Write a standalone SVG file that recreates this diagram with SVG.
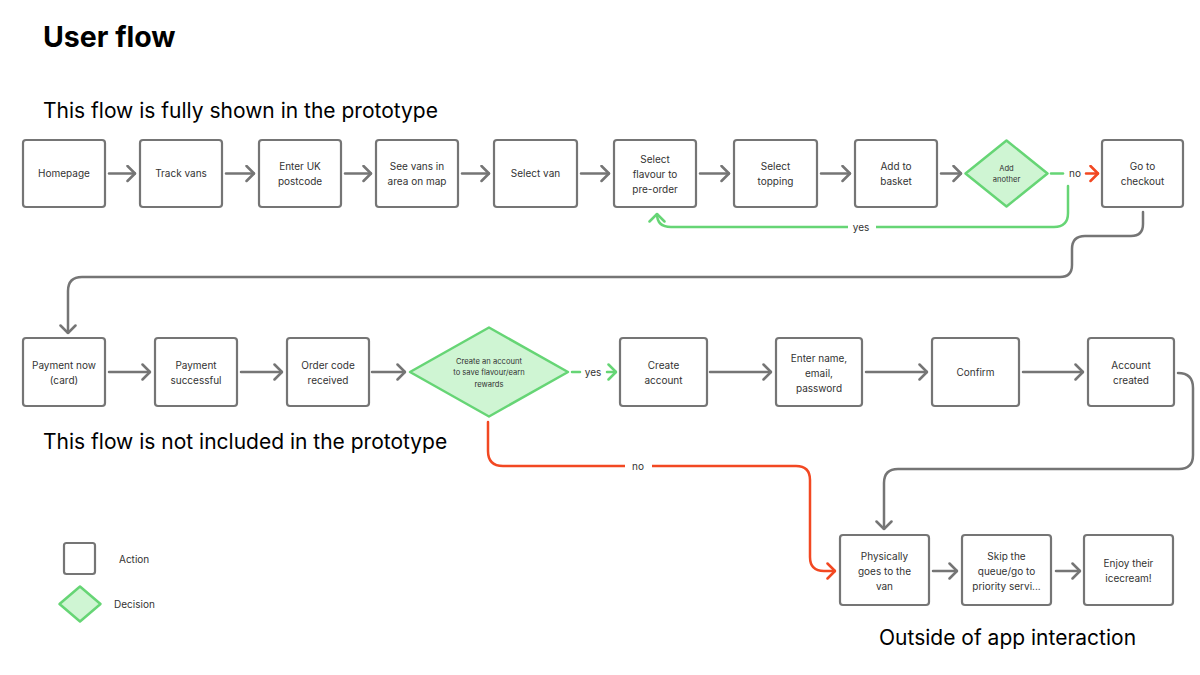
<svg xmlns="http://www.w3.org/2000/svg" width="1200" height="675" viewBox="0 0 1200 675">
<style>
.bg{fill:#ffffff}
.box{fill:#ffffff;stroke:#757575;stroke-width:2.2}
.dia{fill:#CFF5D3;stroke:#66D575;stroke-width:2.5;stroke-linejoin:round}
.t{font-family:Inter,"Liberation Sans",sans-serif;font-size:10px;fill:#333333;text-anchor:middle}
.ts{font-family:Inter,"Liberation Sans",sans-serif;font-size:7.6px;fill:#333333;text-anchor:middle}
.lab{font-family:Inter,"Liberation Sans",sans-serif;font-size:10px;fill:#333333;text-anchor:middle}
.leg{font-family:Inter,"Liberation Sans",sans-serif;font-size:10px;fill:#333333}
.h1{font-family:Inter,"Liberation Sans",sans-serif;font-size:28.5px;font-weight:700;fill:#000000}
.h2{font-family:Inter,"Liberation Sans",sans-serif;font-size:21px;fill:#000000}
.cg{fill:none;stroke:#757575;stroke-width:2.5;stroke-linecap:round}
.cgr{fill:none;stroke:#66D575;stroke-width:2.5;stroke-linecap:round}
.cr{fill:none;stroke:#F24822;stroke-width:2.5;stroke-linecap:round}
</style>
<defs>
<marker id="ag" viewBox="0 0 10 18" refX="9" refY="9" markerWidth="10" markerHeight="18" markerUnits="userSpaceOnUse" orient="auto"><path d="M1.5 1.5 L9 9 L1.5 16.5" fill="none" stroke="#757575" stroke-width="2.5" stroke-linecap="round" stroke-linejoin="round"/></marker>
<marker id="agr" viewBox="0 0 10 18" refX="9" refY="9" markerWidth="10" markerHeight="18" markerUnits="userSpaceOnUse" orient="auto"><path d="M1.5 1.5 L9 9 L1.5 16.5" fill="none" stroke="#66D575" stroke-width="2.5" stroke-linecap="round" stroke-linejoin="round"/></marker>
<marker id="ar" viewBox="0 0 10 18" refX="9" refY="9" markerWidth="10" markerHeight="18" markerUnits="userSpaceOnUse" orient="auto"><path d="M1.5 1.5 L9 9 L1.5 16.5" fill="none" stroke="#F24822" stroke-width="2.5" stroke-linecap="round" stroke-linejoin="round"/></marker>
</defs>
<rect class="bg" x="0" y="0" width="1200" height="675"/>

<g id="titles">
<text class="h1" x="43" y="47">User flow</text>
<text class="h2" x="43" y="118">This flow is fully shown in the prototype</text>
<text class="h2" x="43" y="449">This flow is not included in the prototype</text>
<text class="h2" x="879" y="645">Outside of app interaction</text>
</g>

<g id="connectors">
<path class="cg" d="M109 173.5 H135" marker-end="url(#ag)"/>
<path class="cg" d="M226 173.5 H254" marker-end="url(#ag)"/>
<path class="cg" d="M345 173.5 H371" marker-end="url(#ag)"/>
<path class="cg" d="M462 173.5 H489" marker-end="url(#ag)"/>
<path class="cg" d="M581 173.5 H609" marker-end="url(#ag)"/>
<path class="cg" d="M700 173.5 H729" marker-end="url(#ag)"/>
<path class="cg" d="M821 173.5 H850" marker-end="url(#ag)"/>
<path class="cg" d="M941 173.5 H961" marker-end="url(#ag)"/>
<path class="cgr" d="M1051 173.5 H1063"/>
<text class="lab" x="1075" y="177">no</text>
<path class="cr" d="M1086 173.5 H1098" marker-end="url(#ar)"/>
<path class="cgr" d="M1068 186 V213 Q1068 227 1054 227 H671 Q657 227 657 214" marker-end="url(#agr)"/>
<rect x="848" y="220" width="28" height="14" fill="#ffffff"/>
<text class="lab" x="861" y="231">yes</text>
<path class="cg" d="M1143 212 V224 Q1143 236 1131 236 H1085 Q1072 236 1072 249 V265 Q1072 277 1060 277 H82 Q68 277 68 291 V333" marker-end="url(#ag)"/>
<path class="cg" d="M109 372 H150" marker-end="url(#ag)"/>
<path class="cg" d="M241 372 H282" marker-end="url(#ag)"/>
<path class="cg" d="M372 372 H405" marker-end="url(#ag)"/>
<path class="cgr" d="M572 372 H580"/>
<text class="lab" x="593" y="376">yes</text>
<path class="cgr" d="M607 372 H616" marker-end="url(#agr)"/>
<path class="cg" d="M710 372 H771" marker-end="url(#ag)"/>
<path class="cg" d="M866 372 H927" marker-end="url(#ag)"/>
<path class="cg" d="M1023 372 H1083" marker-end="url(#ag)"/>
<path class="cg" d="M1178 373 Q1193 373 1193 388 V455 Q1193 469 1179 469 H898 Q884 469 884 483 V529" marker-end="url(#ag)"/>
<path class="cr" d="M488 422 V451 Q488 466 503 466 H796 Q810 466 810 480 V557 Q810 571 824 571 H835" marker-end="url(#ar)"/>
<rect x="625" y="459" width="27" height="14" fill="#ffffff"/>
<text class="lab" x="638" y="470">no</text>
<path class="cg" d="M933 571 H957" marker-end="url(#ag)"/>
<path class="cg" d="M1056 571 H1080" marker-end="url(#ag)"/>
</g>

<g id="homepage"><rect class="box" x="23" y="140" width="82" height="67" rx="3"/><text class="t" x="64" y="177">Homepage</text></g>
<g id="track-vans"><rect class="box" x="140" y="140" width="82" height="67" rx="3"/><text class="t" x="181" y="177">Track vans</text></g>
<g id="enter-postcode"><rect class="box" x="259" y="140" width="82" height="67" rx="3"/><text class="t" x="300" y="170">Enter UK</text><text class="t" x="300" y="185">postcode</text></g>
<g id="see-vans"><rect class="box" x="376" y="140" width="82" height="67" rx="3"/><text class="t" x="417" y="170">See vans in</text><text class="t" x="417" y="185">area on map</text></g>
<g id="select-van"><rect class="box" x="494" y="140" width="83" height="67" rx="3"/><text class="t" x="535.5" y="177">Select van</text></g>
<g id="select-flavour"><rect class="box" x="614" y="140" width="82" height="67" rx="3"/><text class="t" x="655" y="162.5">Select</text><text class="t" x="655" y="177.5">flavour to</text><text class="t" x="655" y="192.5">pre-order</text></g>
<g id="select-topping"><rect class="box" x="734" y="140" width="83" height="67" rx="3"/><text class="t" x="775.5" y="170">Select</text><text class="t" x="775.5" y="185">topping</text></g>
<g id="add-basket"><rect class="box" x="855" y="140" width="82" height="67" rx="3"/><text class="t" x="896" y="170">Add to</text><text class="t" x="896" y="185">basket</text></g>
<g id="add-another"><path class="dia" d="M1006.5 140.5 L1047.5 173.5 L1006.5 206.5 L965.5 173.5 Z"/><text class="ts" x="1006.5" y="171">Add</text><text class="ts" x="1006.5" y="181.5">another</text></g>
<g id="checkout"><rect class="box" x="1102" y="140" width="81" height="67" rx="3"/><text class="t" x="1142.5" y="170">Go to</text><text class="t" x="1142.5" y="185">checkout</text></g>

<g id="payment-now"><rect class="box" x="23" y="338" width="82" height="68" rx="3"/><text class="t" x="64" y="369">Payment now</text><text class="t" x="64" y="384">(card)</text></g>
<g id="payment-successful"><rect class="box" x="155" y="338" width="82" height="68" rx="3"/><text class="t" x="196" y="369">Payment</text><text class="t" x="196" y="384">successful</text></g>
<g id="order-code"><rect class="box" x="287" y="338" width="82" height="68" rx="3"/><text class="t" x="328" y="369">Order code</text><text class="t" x="328" y="384">received</text></g>
<g id="create-account-q"><path class="dia" d="M489 327.5 L568 372 L489 416.5 L410 372 Z"/><text class="ts" x="489" y="363.5">Create an account</text><text class="ts" x="489" y="375">to save flavour/earn</text><text class="ts" x="489" y="386.5">rewards</text></g>
<g id="create-account"><rect class="box" x="620" y="338" width="87" height="68" rx="3"/><text class="t" x="663.5" y="369">Create</text><text class="t" x="663.5" y="384">account</text></g>
<g id="enter-details"><rect class="box" x="776" y="338" width="86" height="68" rx="3"/><text class="t" x="819" y="361.5">Enter name,</text><text class="t" x="819" y="376.5">email,</text><text class="t" x="819" y="391.5">password</text></g>
<g id="confirm"><rect class="box" x="932" y="338" width="87" height="68" rx="3"/><text class="t" x="975.5" y="376">Confirm</text></g>
<g id="account-created"><rect class="box" x="1088" y="338" width="86" height="68" rx="3"/><text class="t" x="1131" y="369">Account</text><text class="t" x="1131" y="384">created</text></g>

<g id="goes-to-van"><rect class="box" x="840" y="535" width="89" height="70" rx="3"/><text class="t" x="884.5" y="559.5">Physically</text><text class="t" x="884.5" y="574.5">goes to the</text><text class="t" x="884.5" y="589.5">van</text></g>
<g id="skip-queue"><rect class="box" x="962" y="535" width="89" height="70" rx="3"/><text class="t" x="1006.5" y="559.5">Skip the</text><text class="t" x="1006.5" y="574.5">queue/go to</text><text class="t" x="1006.5" y="589.5">priority servi...</text></g>
<g id="enjoy"><rect class="box" x="1084" y="535" width="89" height="70" rx="3"/><text class="t" x="1128.5" y="567">Enjoy their</text><text class="t" x="1128.5" y="582">icecream!</text></g>

<g id="legend">
<rect class="box" x="64" y="543" width="31" height="31" rx="2.5"/>
<text class="leg" x="119" y="563">Action</text>
<path class="dia" d="M80 586.5 L100.5 604 L80 621.5 L59.5 604 Z"/>
<text class="leg" x="114" y="608">Decision</text>
</g>
</svg>
